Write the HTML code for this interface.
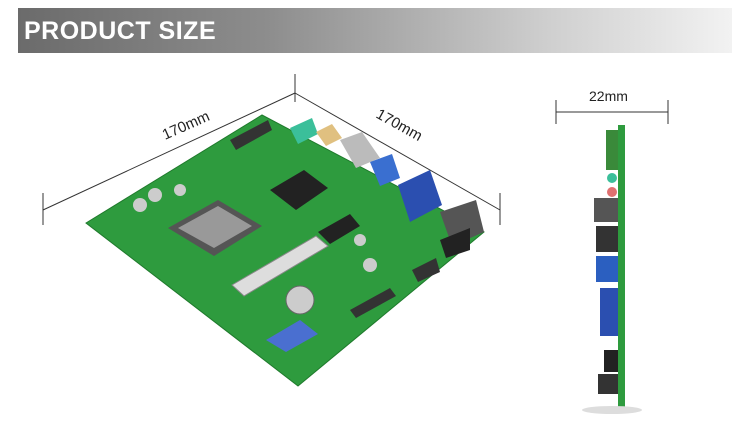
<!DOCTYPE html>
<html><head><meta charset="utf-8"><style>
html,body{margin:0;padding:0;background:#fff;width:750px;height:433px;overflow:hidden;font-family:"Liberation Sans",sans-serif}
.hdr{position:absolute;left:18px;top:8px;width:714px;height:45px;background:linear-gradient(90deg,#6b6b6b 0%,#8d8d8d 35%,#d0d0d0 75%,#f2f2f2 100%)}
.hdr span{position:absolute;left:6px;top:9px;color:#fff;font-weight:bold;font-size:25px;letter-spacing:0.5px}
</style></head><body>
<div class="hdr"><span>PRODUCT SIZE</span></div>
<svg width="750" height="433" style="position:absolute;left:0;top:0">
<g stroke="#333" stroke-width="1" fill="none">
<line x1="43" y1="210" x2="295" y2="93"/><line x1="295" y1="93" x2="500" y2="210"/>
<line x1="43" y1="193" x2="43" y2="225"/><line x1="295" y1="74" x2="295" y2="102"/><line x1="500" y1="193" x2="500" y2="225"/>
<line x1="556" y1="112" x2="668" y2="112"/><line x1="556" y1="100" x2="556" y2="124"/><line x1="668" y1="100" x2="668" y2="124"/>
</g>
<text x="165" y="140" font-size="15" fill="#222" transform="rotate(-24 165 140)" font-family="Liberation Sans">170mm</text>
<text x="375" y="117" font-size="15" fill="#222" transform="rotate(29 375 117)" font-family="Liberation Sans">170mm</text>
<text x="589" y="101" font-size="14" fill="#222" font-family="Liberation Sans">22mm</text>
<!-- board -->
<polygon points="86,223 262,115 484,232 298,386" fill="#2e9b3e" stroke="#1f7a2c"/>
<polygon points="168,228 218,200 262,226 214,256" fill="#555"/>
<polygon points="178,228 218,206 252,226 214,248" fill="#999"/>
<polygon points="232,285 316,236 328,246 244,296" fill="#ddd" stroke="#888"/>
<polygon points="270,190 304,170 328,188 296,210" fill="#222"/>
<polygon points="398,185 430,170 442,205 410,222" fill="#2b4fb0"/>
<polygon points="440,212 476,200 484,232 452,246" fill="#555"/>
<polygon points="440,240 470,228 470,250 446,258" fill="#222"/>
<polygon points="340,140 362,132 380,158 356,168" fill="#bbb"/>
<polygon points="370,162 392,154 400,178 380,186" fill="#3a6fd0"/>
<polygon points="318,232 350,214 360,226 330,244" fill="#222"/>
<circle cx="300" cy="300" r="14" fill="#ccc" stroke="#666"/>
<polygon points="230,140 268,120 272,130 236,150" fill="#333"/>
<polygon points="290,128 312,118 318,134 298,144" fill="#3bbf9a"/>
<polygon points="316,132 332,124 342,138 326,146" fill="#e0c080"/>
<polygon points="350,310 390,288 396,296 356,318" fill="#333"/>
<polygon points="266,340 300,320 318,334 286,352" fill="#4a6fd0"/>
<polygon points="412,270 436,258 440,272 418,282" fill="#333"/>
<circle cx="140" cy="205" r="7" fill="#ccc"/><circle cx="155" cy="195" r="7" fill="#ccc"/><circle cx="180" cy="190" r="6" fill="#ccc"/>
<circle cx="370" cy="265" r="7" fill="#ccc"/><circle cx="360" cy="240" r="6" fill="#ccc"/>
<!-- side view -->
<rect x="618" y="125" width="7" height="285" fill="#2e9b3e"/>
<rect x="606" y="130" width="12" height="40" fill="#3a8a3a"/>
<circle cx="612" cy="178" r="5" fill="#3bbf9a"/><circle cx="612" cy="192" r="5" fill="#e07070"/>
<rect x="594" y="198" width="24" height="24" fill="#555"/>
<rect x="596" y="226" width="22" height="26" fill="#333"/>
<rect x="596" y="256" width="22" height="26" fill="#2b5fc0"/>
<rect x="600" y="288" width="18" height="48" fill="#2b4fb0"/>
<rect x="604" y="350" width="14" height="22" fill="#222"/>
<rect x="598" y="374" width="20" height="20" fill="#333"/>
<ellipse cx="612" cy="410" rx="30" ry="4" fill="#ddd"/>
</svg>
</body></html>
